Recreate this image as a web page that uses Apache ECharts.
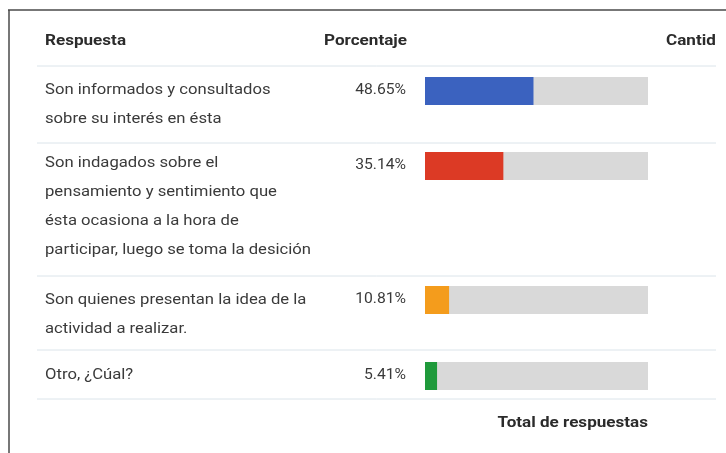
<!DOCTYPE html>
<html>
<head>
<meta charset="utf-8">
<script src="https://cdn.jsdelivr.net/npm/echarts@6/dist/echarts.min.js"></script>
<style>
  html, body { margin: 0; padding: 0; background: #fff; }
  #main { width: 726px; height: 453px; }
</style>
</head>
<body>
<div id="main"></div>
<script>
const answers = [
  'Son informados y consultados\nsobre su interés en ésta',
  'Son indagados sobre el\npensamiento y sentimiento que\nésta ocasiona a la hora de\nparticipar, luego se toma la desición',
  'Son quienes presentan la idea de la\nactividad a realizar.',
  'Otro, ¿Cúal?'
];
const percents = [48.65, 35.14, 10.81, 5.41];
const barColors = ['#3b62bf', '#dc3a25', '#f49c1c', '#1f9a3b'];
const headers = ['Respuesta', 'Porcentaje', 'Cantidad'];
const totalLabel = 'Total de respuestas';

// layout
const FONT = 'Roboto, "Noto Sans", sans-serif';
const barLeft = 425, barWidth = 223, barH = 28;
const barTops = [77, 152, 286, 362];
const textTops = [75.5, 148.5, 285.5, 360.5];
const sepYs = [66, 143, 276, 350, 399];
const lineH = 29;
// the scan is stretched sideways
const SX_BODY = 1.19, SX_HEAD = 1.22, SX_PCT = 1.12;

const chart = echarts.init(document.getElementById('main'), null, { renderer: 'canvas' });

const grids = [], xAxes = [], yAxes = [], series = [];
percents.forEach((p, i) => {
  grids.push({ left: barLeft, width: barWidth, top: barTops[i], height: barH });
  xAxes.push({ type: 'value', gridIndex: i, min: 0, max: 100, show: false });
  yAxes.push({ type: 'category', gridIndex: i, data: [answers[i]], show: false });
  series.push({
    type: 'bar',
    xAxisIndex: i,
    yAxisIndex: i,
    data: [p],
    barWidth: barH,
    itemStyle: { color: barColors[i] },
    showBackground: true,
    backgroundStyle: { color: '#d9d9d9' },
    silent: true
  });
});

const graphics = [];
// frame
graphics.push({ type: 'line', shape: { x1: 8, y1: 10, x2: 726, y2: 10 }, style: { stroke: '#4a4a4a', lineWidth: 1.5 } });
graphics.push({ type: 'line', shape: { x1: 9, y1: 10, x2: 9, y2: 453 }, style: { stroke: '#4a4a4a', lineWidth: 1.5 } });
// separators
sepYs.forEach(y => {
  graphics.push({ type: 'line', shape: { x1: 37, y1: y, x2: 716, y2: y }, style: { stroke: '#dbe4ea', lineWidth: 1 } });
});
// headers
const headFont = 'bold 14px ' + FONT;
function headText(text, x, y, align) {
  return { type: 'text', x: x, y: y, scaleX: SX_HEAD,
    style: { text: text, font: headFont, fill: '#2b2b2b', align: align, verticalAlign: 'middle' } };
}
graphics.push(headText(headers[0], 45, 41, 'left'));
graphics.push(headText(headers[1], 407, 41, 'right'));
graphics.push(headText(headers[2], 666, 41, 'left'));
// rows
answers.forEach((a, i) => {
  graphics.push({ type: 'text', x: 45, y: textTops[i], scaleX: SX_BODY,
    style: { text: a, font: '14px ' + FONT, fill: '#3a3a3a', lineHeight: lineH, verticalAlign: 'top' } });
  graphics.push({ type: 'text', x: 406, y: barTops[i] + barH / 2 - 1, scaleX: SX_PCT,
    style: { text: percents[i].toFixed(2) + '%', font: '14px ' + FONT, fill: '#3a3a3a', align: 'right', verticalAlign: 'middle' } });
});
graphics.push(headText(totalLabel, 648, 423, 'right'));
// page crop on the right edge
graphics.push({ type: 'rect', shape: { x: 716, y: 11, width: 10, height: 442 }, style: { fill: '#fff' }, z: 100 });

chart.setOption({
  animation: false,
  grid: grids,
  xAxis: xAxes,
  yAxis: yAxes,
  series: series,
  graphic: graphics
});
</script>
</body>
</html>
